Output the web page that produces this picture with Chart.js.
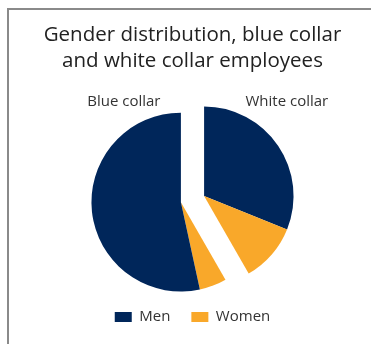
<!DOCTYPE html>
<html>
<head>
<meta charset="utf-8">
<script src="https://cdn.jsdelivr.net/npm/chart.js@4"></script>
<style>
  html, body { margin: 0; padding: 0; background: #fff; }
  #wrap { position: relative; width: 371px; height: 344px; overflow: hidden; }
  #frame { position: absolute; left: 7px; top: 8px; width: 420px; height: 400px;
           border-left: 2px solid #8a8a8a; border-top: 2px solid #8a8a8a; }
  #myChart { position: absolute; left: 0; top: 0; }
</style>
</head>
<body>
<div id="wrap">
  <div id="frame"></div>
  <canvas id="myChart" width="371" height="344"></canvas>
</div>
<script>
// data, clockwise from 12 o'clock (share of all employees, %)
var labels = ['Men', 'Women', 'Women', 'Men'];
var groups = ['White collar', 'White collar', 'Blue collar', 'Blue collar'];
var valores = [31.1, 10.6, 4.9, 53.4];
var colores = ['#00265a', '#f9a82a', '#f9a82a', '#00265a'];
var groupNames = ['Blue collar', 'White collar'];

var EXPLODE = 12;
var fuente = "'Open Sans', 'Noto Sans', sans-serif";

// moves every slice of a group out along the group's middle angle
var separarGrupos = {
    id: 'separarGrupos',
    afterDatasetsUpdate: function(chart) {
        var arcs = chart.getDatasetMeta(0).data;
        groupNames.forEach(function(g) {
            var idx = [];
            for (var i = 0; i < groups.length; i++) {
                if (groups[i] == g) idx.push(i);
            }
            var mid = (arcs[idx[0]].startAngle + arcs[idx[idx.length - 1]].endAngle) / 2;
            idx.forEach(function(i) {
                arcs[i].x += Math.cos(mid) * EXPLODE;
                arcs[i].y += Math.sin(mid) * EXPLODE;
            });
        });
    },
    afterDraw: function(chart) {
        var arc = chart.getDatasetMeta(0).data[0];
        var ca = chart.chartArea;
        var cx = (ca.left + ca.right) / 2;
        var cy = (ca.top + ca.bottom) / 2;
        var r = arc.outerRadius;
        var ctx = chart.ctx;
        ctx.save();
        ctx.font = '15px ' + fuente;
        ctx.fillStyle = '#333';
        ctx.textBaseline = 'alphabetic';
        ctx.textAlign = 'right';
        ctx.fillText(groupNames[0], cx - 32, cy - r - 3.5);
        ctx.textAlign = 'left';
        ctx.fillText(groupNames[1], cx + 53, cy - r - 3.5);
        ctx.restore();
    }
};

var canvas = document.getElementById('myChart').getContext('2d');
var chart = new Chart(canvas, {
    type: 'pie',
    data: {
        labels: labels,
        datasets: [{
            data: valores,
            backgroundColor: colores,
            borderWidth: 0
        }]
    },
    options: {
        responsive: false,
        animation: false,
        layout: { padding: { left: 14, right: 0, top: 0, bottom: 9.5 } },
        plugins: {
            title: {
                display: true,
                text: ['Gender distribution, blue collar', 'and white collar employees'],
                color: '#222',
                font: { family: fuente, size: 20.5, weight: 'normal', lineHeight: 1.27 },
                padding: { top: 22, bottom: 35.5 }
            },
            legend: {
                position: 'bottom',
                labels: {
                    color: '#333',
                    font: { family: fuente, size: 15 },
                    boxWidth: 17,
                    boxHeight: 10,
                    padding: 21,
                    filter: function(item) { return item.index < 2; }
                }
            },
            tooltip: { enabled: false }
        }
    },
    plugins: [separarGrupos]
});
</script>
</body>
</html>
